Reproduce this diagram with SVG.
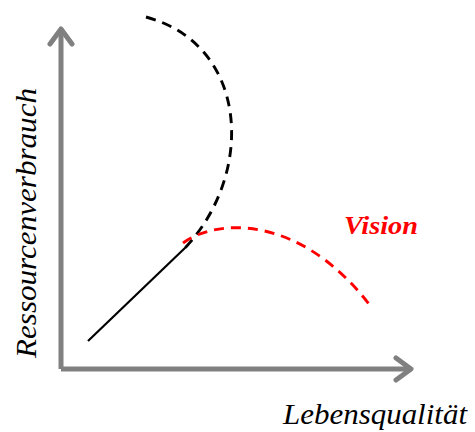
<svg xmlns="http://www.w3.org/2000/svg" width="475" height="432" viewBox="0 0 475 432">
<style>
.axis{stroke:#808080;stroke-width:5;fill:none;stroke-linecap:butt}
.head{stroke:#808080;stroke-width:5;fill:none;stroke-linecap:round;stroke-linejoin:round}
.lbl{font-family:"Liberation Serif",serif;font-style:italic;font-size:29px;fill:#000}
.dash{fill:none;stroke-width:2.9;stroke-dasharray:10 7}
</style>
<rect width="475" height="432" fill="#fff"/>
<g id="axes">
<path class="axis" d="M61,369 V30 M61,369 H410"/>
<path class="head" d="M50,44 L61,29 L72,44"/>
<path class="head" d="M396,358 L411,369 L396,380"/>
</g>
<g id="connectors">
<path d="M88,341 L186,247" stroke="#000" stroke-width="2.2" fill="none"/>
<path class="dash" stroke="#000" d="M146,17 C250,45 255,175 184,249"/>
<path class="dash" stroke="#f00" d="M183,243 C215,219 300,212 372,308"/>
</g>
<g id="labels">
<text class="lbl" transform="translate(36,358) rotate(-90)" textLength="270" lengthAdjust="spacingAndGlyphs">Ressourcenverbrauch</text>
<text class="lbl" x="283" y="424" textLength="184" lengthAdjust="spacingAndGlyphs">Lebensqualität</text>
<text x="344" y="234" font-family="Liberation Serif,serif" font-style="italic" font-weight="bold" font-size="25" fill="#f00" textLength="74" lengthAdjust="spacingAndGlyphs">Vision</text>
</g>
</svg>
